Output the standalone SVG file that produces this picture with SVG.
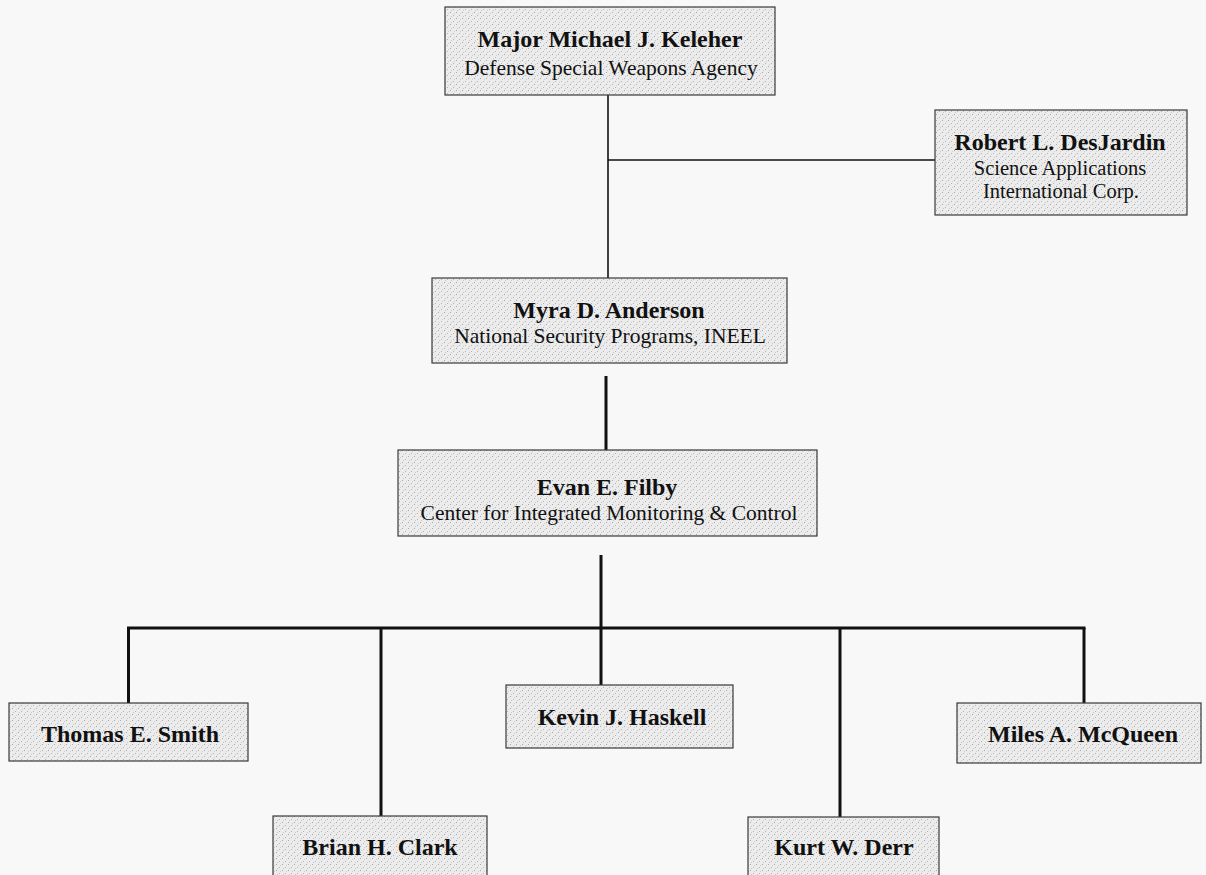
<svg xmlns="http://www.w3.org/2000/svg" width="1206" height="875" viewBox="0 0 1206 875">
  <defs>
    <!-- stippled halftone fill used by every box -->
    <pattern id="stipple" width="6" height="6" patternUnits="userSpaceOnUse">
      <rect width="6" height="6" fill="#ececec"/>
      <rect x="0" y="0" width="1" height="1" fill="#a8a8a8"/>
      <rect x="3" y="3" width="1" height="1" fill="#b4b4b4"/>
      <rect x="4" y="1" width="1" height="1" fill="#cfcfcf"/>
      <rect x="1" y="4" width="1" height="1" fill="#c6c6c6"/>
    </pattern>
    <style>
      .box { fill: url(#stipple); stroke: #3a3a3a; stroke-width: 1.2; }
      .name { font-family: "Liberation Serif", "Times New Roman", serif; font-weight: bold; font-size: 24px; fill: #111; text-anchor: middle; }
      .sub { font-family: "Liberation Serif", "Times New Roman", serif; font-size: 21.5px; fill: #111; text-anchor: middle; }
      .sub-s { font-family: "Liberation Serif", "Times New Roman", serif; font-size: 20.5px; fill: #111; text-anchor: middle; }
      .wire { stroke: #111; fill: none; stroke-linecap: butt; }
      .thin { stroke-width: 1.6; }
      .thick { stroke-width: 3; }
    </style>
  </defs>

  <rect width="1206" height="875" fill="#f8f8f8"/>

  <!-- connectors -->
  <g id="connectors">
    <line class="wire thin" x1="608" y1="95" x2="608" y2="278"/>
    <line class="wire thin" x1="608" y1="160" x2="935" y2="160"/>
    <line class="wire thick" x1="606" y1="376" x2="606" y2="468"/>
    <line class="wire thick" x1="601" y1="555" x2="601" y2="685"/>
    <line class="wire thick" x1="127" y1="628" x2="1085.5" y2="628"/>
    <line class="wire thick" x1="128.5" y1="628" x2="128.5" y2="703"/>
    <line class="wire thick" x1="381" y1="628" x2="381" y2="816"/>
    <line class="wire thick" x1="840" y1="628" x2="840" y2="817"/>
    <line class="wire thick" x1="1084" y1="628" x2="1084" y2="703"/>
  </g>

  <g id="keleher">
    <rect class="box" x="445" y="7" width="330" height="88"/>
    <text class="name" x="610" y="47">Major Michael J. Keleher</text>
    <text class="sub" x="611" y="75">Defense Special Weapons Agency</text>
  </g>

  <g id="desjardin">
    <rect class="box" x="935" y="110" width="252" height="105"/>
    <text class="name" x="1060" y="150">Robert L. DesJardin</text>
    <text class="sub-s" x="1060" y="175">Science Applications</text>
    <text class="sub-s" x="1061" y="198">International Corp.</text>
  </g>

  <g id="anderson">
    <rect class="box" x="432" y="278" width="355" height="85"/>
    <text class="name" x="609" y="318">Myra D. Anderson</text>
    <text class="sub" x="610" y="343">National Security Programs, INEEL</text>
  </g>

  <g id="filby">
    <rect class="box" x="398" y="450" width="419" height="86"/>
    <text class="name" x="607" y="495">Evan E. Filby</text>
    <text class="sub" x="609" y="520">Center for Integrated Monitoring &amp; Control</text>
  </g>

  <g id="smith">
    <rect class="box" x="9" y="703" width="239" height="58"/>
    <text class="name" x="130" y="742">Thomas E. Smith</text>
  </g>

  <g id="haskell">
    <rect class="box" x="506" y="685" width="227" height="63"/>
    <text class="name" x="622" y="725">Kevin J. Haskell</text>
  </g>

  <g id="mcqueen">
    <rect class="box" x="957" y="703" width="244" height="60"/>
    <text class="name" x="1083" y="742">Miles A. McQueen</text>
  </g>

  <g id="clark">
    <rect class="box" x="273" y="816" width="214" height="70"/>
    <text class="name" x="380" y="855">Brian H. Clark</text>
  </g>

  <g id="derr">
    <rect class="box" x="748" y="817" width="191" height="70"/>
    <text class="name" x="844" y="855">Kurt W. Derr</text>
  </g>
</svg>
